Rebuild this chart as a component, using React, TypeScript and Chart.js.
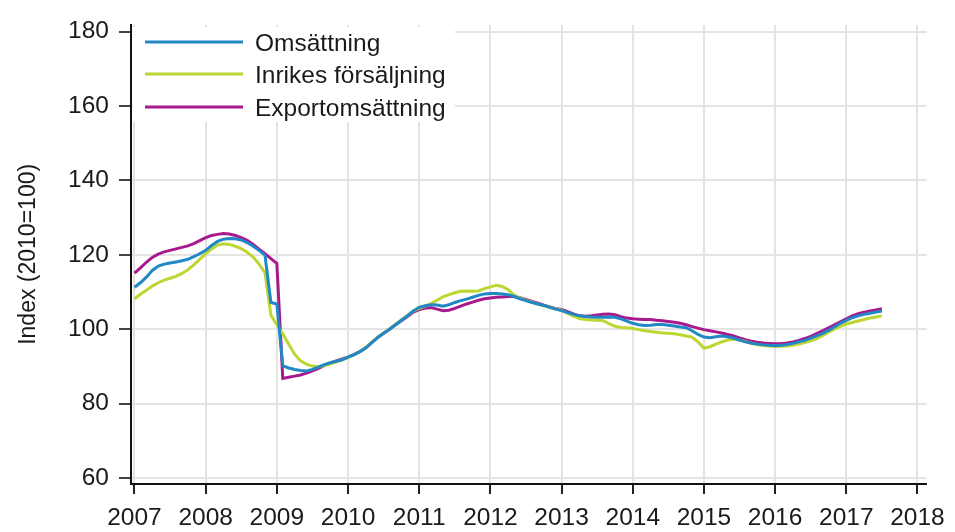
import React, { useEffect, useRef } from "react";
import { Chart, registerables } from "chart.js";

Chart.register(...registerables);

const START_YEAR = 2007;
const X_TICKS = [2007, 2008, 2009, 2010, 2011, 2012, 2013, 2014, 2015, 2016, 2017, 2018];
const Y_TICKS = [60, 80, 100, 120, 140, 160, 180];
const SERIES_NAMES = ["Omsättning", "Inrikes försäljning", "Exportomsättning"];
const SERIES_COLORS = ["#1f88c5", "#bdd632", "#a8198d"];

// Monthly values, Jan 2007 – Jul 2017
const omsattning = [
  111.3, 112.5, 114.0, 115.8, 117.0, 117.5, 117.8, 118.1, 118.4, 118.8, 119.5, 120.3,
  121.2, 122.5, 123.6, 124.2, 124.4, 124.3, 124.0, 123.3, 122.3, 121.2, 119.9, 107.2,
  106.8, 90.2, 89.6, 89.2, 88.9, 88.8, 89.2, 89.8, 90.5, 91.0, 91.4, 91.8,
  92.5, 93.2, 94.0, 95.0, 96.4, 97.8, 98.9, 100.0, 101.2, 102.4, 103.6, 104.9,
  105.9, 106.3, 106.6, 106.5, 106.2, 106.6, 107.2, 107.7, 108.1, 108.6, 109.1, 109.5,
  109.6, 109.6, 109.5, 109.3, 108.8, 108.2, 107.7, 107.2, 106.8, 106.4, 105.9, 105.4,
  105.0, 104.5, 104.0, 103.6, 103.4, 103.3, 103.2, 103.2, 103.3, 103.2, 102.8, 102.2,
  101.6, 101.2, 101.0, 101.1, 101.3, 101.3, 101.1, 100.9, 100.6, 100.4, 99.6, 98.6,
  97.9, 97.7, 98.0, 98.2, 98.0, 97.6, 97.1, 96.6, 96.2, 96.0, 95.8, 95.7,
  95.6, 95.7, 95.9, 96.2, 96.6, 97.0, 97.6, 98.2, 98.9, 99.7, 100.6, 101.6,
  102.4, 103.1, 103.6, 104.0, 104.3, 104.6, 104.9,
];

const inrikes = [
  108.2, 109.4, 110.5, 111.6, 112.5, 113.2, 113.7, 114.2, 115.0, 116.0, 117.3, 118.8,
  120.3, 121.6, 122.6, 123.0, 122.8, 122.3, 121.7, 120.7, 119.4, 117.5, 115.2, 103.8,
  101.2, 98.8, 96.0, 93.3, 91.5, 90.6, 90.1, 89.9, 90.2, 90.7, 91.2, 91.8,
  92.4, 93.1, 94.0, 95.1, 96.5, 97.9, 99.0, 100.1, 101.3, 102.5, 103.7, 104.9,
  105.6, 106.2, 106.9, 107.8, 108.7, 109.3, 109.8, 110.2, 110.3, 110.2, 110.3, 110.9,
  111.4, 111.8, 111.5, 110.6, 109.2, 108.4, 107.8, 107.3, 106.8, 106.3, 105.9, 105.5,
  105.1, 104.3, 103.5, 102.9, 102.6, 102.5, 102.4, 102.3, 101.5, 100.8, 100.5, 100.4,
  100.2, 99.9, 99.6, 99.4, 99.2, 99.0, 98.9, 98.8, 98.5, 98.2, 97.9, 96.6,
  94.9, 95.3, 96.0, 96.6, 97.1, 97.3, 97.1, 96.7, 96.2, 95.8, 95.6, 95.5,
  95.4, 95.4, 95.5, 95.7, 96.0, 96.4, 96.9, 97.5, 98.3, 99.2, 100.0, 100.8,
  101.4, 101.8, 102.2, 102.6, 103.0, 103.3, 103.6,
];

const export_ = [
  115.1, 116.5, 118.0, 119.3, 120.2, 120.8, 121.2, 121.6, 122.0, 122.4, 123.0, 123.8,
  124.6, 125.2, 125.5, 125.7, 125.6, 125.2, 124.6, 123.9, 122.8, 121.5, 120.3, 119.0,
  117.7, 86.8, 87.1, 87.4, 87.7, 88.2, 88.8, 89.5, 90.2, 90.9, 91.5, 92.0,
  92.5, 93.2, 94.0, 95.0, 96.4, 97.8, 98.9, 100.0, 101.2, 102.3, 103.4, 104.6,
  105.3, 105.7, 105.8, 105.4, 105.0, 105.1, 105.6, 106.2, 106.8, 107.3, 107.8, 108.2,
  108.4, 108.6, 108.7, 108.8, 108.8, 108.5, 108.0, 107.5, 107.0, 106.5, 106.0, 105.6,
  105.3, 104.7, 104.1, 103.6, 103.5, 103.6, 103.8, 104.0, 104.1, 103.9, 103.4, 103.0,
  102.8, 102.7, 102.6, 102.6, 102.4, 102.3, 102.1, 101.9, 101.6, 101.2, 100.7, 100.3,
  99.9, 99.6, 99.3, 99.0, 98.6, 98.2, 97.7, 97.2, 96.8, 96.5, 96.3, 96.2,
  96.1, 96.1, 96.3, 96.6, 97.0, 97.5, 98.1, 98.8, 99.6, 100.4, 101.2, 102.0,
  102.8, 103.6, 104.2, 104.6, 104.9, 105.2, 105.5,
];

const SERIES = [omsattning, inrikes, export_];
const FONT = "'Liberation Sans', Arial, sans-serif";

const legendPlugin = {
  id: "insideLegend",
  afterDraw(chart: any) {
    const ctx = chart.ctx;
    ctx.save();
    ctx.fillStyle = "#ffffff";
    ctx.fillRect(133, 27, 322, 95);
    const ys = [42, 74, 107];
    chart.data.datasets.forEach((ds: any, i: number) => {
      ctx.strokeStyle = ds.borderColor;
      ctx.lineWidth = 3;
      ctx.beginPath();
      ctx.moveTo(145, ys[i]);
      ctx.lineTo(243, ys[i]);
      ctx.stroke();
      ctx.fillStyle = "#1a1a1a";
      ctx.font = `24.5px ${FONT}`;
      ctx.textAlign = "left";
      ctx.textBaseline = "alphabetic";
      ctx.fillText(ds.label, 255, ys[i] + 8.5);
    });
    ctx.restore();
  },
};

export default function App() {
  const ref = useRef<HTMLCanvasElement | null>(null);
  useEffect(() => {
    if (!ref.current) return;
    const datasets = SERIES.map((vals, i) => ({
      label: SERIES_NAMES[i],
      data: vals.map((v, m) => ({ x: START_YEAR + m / 12, y: v })),
      borderColor: SERIES_COLORS[i],
      backgroundColor: SERIES_COLORS[i],
      borderWidth: 3,
      pointRadius: 0,
      tension: 0,
      fill: false,
    }));
    const chart = new Chart(ref.current, {
      type: "line",
      data: { datasets },
      plugins: [legendPlugin],
      options: {
        animation: false,
        responsive: false,
        devicePixelRatio: 1,
        layout: { padding: { top: 18, right: 24, left: 0, bottom: 0 } },
        plugins: { legend: { display: false }, tooltip: { enabled: false } },
        scales: {
          x: {
            type: "linear",
            min: 2006.951,
            max: 2018.126,
            afterBuildTicks: (s: any) => {
              s.ticks = X_TICKS.map((v) => ({ value: v }));
            },
            afterFit: (s: any) => {
              s.height = 48;
            },
            ticks: {
              autoSkip: false,
              maxRotation: 0,
              padding: 10,
              color: "#1a1a1a",
              font: { family: FONT, size: 24.5 },
              callback: (v: any) => String(v),
            },
            grid: {
              color: "#e4e4e4",
              lineWidth: 2,
              tickColor: "#222",
              tickLength: 10,
              tickWidth: 2,
            },
            border: { color: "#111", width: 2 },
          },
          y: {
            type: "linear",
            min: 58.41,
            max: 181.85,
            afterBuildTicks: (s: any) => {
              s.ticks = Y_TICKS.map((v) => ({ value: v }));
            },
            afterFit: (s: any) => {
              s.width = 131;
            },
            ticks: {
              padding: 10,
              color: "#1a1a1a",
              font: { family: FONT, size: 24.5 },
              callback: (v: any) => String(v),
            },
            grid: {
              color: "#e4e4e4",
              lineWidth: 2,
              tickColor: "#444",
              tickLength: 12,
              tickWidth: 2,
            },
            border: { color: "#111", width: 2 },
            title: {
              display: true,
              text: "Index (2010=100)",
              color: "#1a1a1a",
              font: { family: FONT, size: 23 },
              padding: { top: 14.5, bottom: 0 },
            },
          },
        },
      },
    });
    return () => chart.destroy();
  }, []);
  return (
    <div style={{ position: "absolute", left: 0, top: 0, width: 955, height: 532 }}>
      <canvas ref={ref} width={955} height={532} />
    </div>
  );
}
